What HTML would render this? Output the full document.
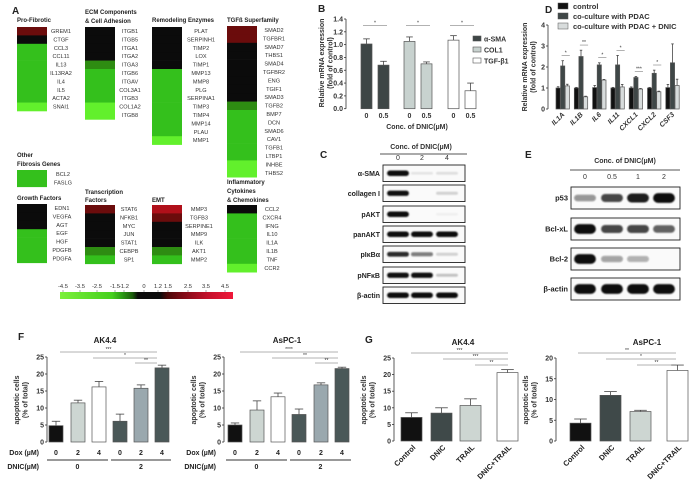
<!DOCTYPE html>
<html><head><meta charset="utf-8">
<style>
html,body{margin:0;padding:0;background:#fff;}
svg{display:block;font-family:"Liberation Sans",Arial,sans-serif;}
</style></head>
<body>
<svg id="fig" width="692" height="490" viewBox="0 0 692 490" xmlns="http://www.w3.org/2000/svg"></svg>
<script>
// ===== Panel A heatmap data =====
const hmTitles=[["Pro-Fibrotic"],["ECM Components","& Cell Adhesion"],["Remodeling Enzymes"],["TGFß Superfamily"],["Other","Fibrosis Genes"],["Growth Factors"],["Transcription","Factors"],["EMT"],["Inflammatory","Cytokines","& Chemokines"]];
const hmGenes=[
["GREM1","CTGF","CCL3","CCL11","IL13","IL13RA2","IL4","IL5","ACTA2","SNAI1"],
["ITGB1","ITGB5","ITGA1","ITGA2","ITGA3","ITGB6","ITGAV","COL3A1","ITGB3","COL1A2","ITGB8"],
["PLAT","SERPINH1","TIMP2","LOX","TIMP1","MMP13","MMP8","PLG","SERPINA1","TIMP3","TIMP4","MMP14","PLAU","MMP1"],
["SMAD2","TGFBR1","SMAD7","THBS1","SMAD4","TGFBR2","ENG","TGIF1","SMAD3","TGFB2","BMP7","DCN","SMAD6","CAV1","TGFB1","LTBP1","INHBE","THBS2"],
["BCL2","FASLG"],
["EDN1","VEGFA","AGT","EGF","HGF","PDGFB","PDGFA"],
["STAT6","NFKB1","MYC","JUN","STAT1","CEBPB","SP1"],
["MMP3","TGFB3","SERPINE1","MMP9","ILK","AKT1","MMP2"],
["CCL2","CXCR4","IFNG","IL10","IL1A","IL1B","TNF","CCR2"]];
const hmValues=[
[2,0,-2,-2,-2,-2,-2,-2,-2,-4],
[0,0,0,0,-1.3,-2,-2,-2,-2,-4,-4],
[0,0,0,0,0,-2,-2,-2,-2,-2,-2,-2,-2,-4],
[2,2,0,0,0,0,0,0,0,-1.3,-2,-2,-2,-2,-2,-2,-4,-4],
[-2,-2],
[0,0,0,-2,-2,-2,-2],
[2.2,0,0,0,0,-1.3,-2],
[3,2,0,0,0,-1.3,-2],
[0,-2,-2,-2,-2,-2,-2,-4]];
const cbTicks=["-4.5","-3.5","-2.5","-1.5","-1.2","0","1.2","1.5","2.5","3.5","4.5"];

// ===== Panel B =====
const bGroups=["0","0.5","0","0.5","0","0.5"];
const bValues=[1.01,0.68,1.05,0.70,1.07,0.28];
const bErrors=[0.08,0.06,0.07,0.03,0.07,0.12];
const bYTicks=["0.0","0.2","0.4","0.6","0.8","1.0","1.2","1.4"];
const bLegend=["α-SMA","COL1","TGF-β1"];

// ===== Panel D =====
const dGenes=["IL1A","IL1B","IL6","IL11","CXCL1","CXCL2","CSF3"];
const dControl=[1,1,1.02,1,1,1,1.02];
const dCoculture=[2.05,2.5,2.1,2.1,1.5,1.7,2.2];
const dDnic=[1.1,0.58,1.38,1.05,0.95,0.82,1.12];
const dControlErr=[0.06,0.03,0.1,0.03,0.05,0.03,0.15];
const dCocultureErr=[0.25,0.3,0.1,0.45,0.05,0.15,0.9];
const dDnicErr=[0.08,0.03,0.03,0.12,0.03,0.03,0.3];
const dSig=["*","**","*","*","***","*",""];
const dYTicks=["0","1","2","3","4"];
const dLegend=["control","co-culture with PDAC","co-culture with PDAC + DNIC"];

// ===== Panel C / E =====
const cRows=["α-SMA","collagen I","pAKT","panAKT","pIκBα","pNFκB","β-actin"];
const cLanes=["0","2","4"];
const cIntensity=[[1,0.08,0.1],[0.9,0,0.15],[1,0,0.04],[1,1,1],[0.8,0.5,0.15],[0.9,0.9,0.2],[1,1,1]];
const eRows=["p53","Bcl-xL","Bcl-2","β-actin"];
const eLanes=["0","0.5","1","2"];
const eIntensity=[[0.4,0.7,0.85,1],[1,0.7,0.7,0.6],[1,0.35,0.3,0],[1,1,1,1]];

// ===== Panel F =====
const fDox=["0","2","4","0","2","4"];
const fAKValues=[4.8,11.5,16.2,6.1,15.8,21.8];
const fAKErrors=[1.3,0.8,1.6,2.1,1.0,0.8];
const fAsValues=[5.0,9.4,13.3,8.1,16.8,21.6];
const fAsErrors=[0.6,2.7,1.1,1.6,0.6,0.4];
const fYTicks=["0","5","10","15","20","25"];

// ===== Panel G =====
const gCats=["Control","DNIC","TRAIL","DNIC+TRAIL"];
const gAKValues=[7.1,8.4,10.7,20.6];
const gAKErrors=[1.4,1.6,2.0,0.9];
const gAsValues=[4.3,11.0,7.1,17.0];
const gAsErrors=[1.0,0.9,0.3,1.3];
const gAKTicks=["0","5","10","15","20","25"];
const gAsTicks=["0","5","10","15","20"];

const NS="http://www.w3.org/2000/svg";
const svg=document.getElementById('fig');
function mk(tag,attrs,parent,txt){const e=document.createElementNS(NS,tag);for(const k in attrs)e.setAttribute(k,attrs[k]);if(txt!==undefined)e.textContent=txt;(parent||svg).appendChild(e);return e;}
function grp(name,parent){const g=mk('g',{},parent);


return g;}
function linY(v0,v1,p0,p1){return v=>p0+(v-v0)*(p1-p0)/(v1-v0);}

const defs=mk('defs',{});
const flt=mk('filter',{id:'blur',x:'-20%',y:'-50%',width:'140%',height:'200%'},defs);
mk('feGaussianBlur',{stdDeviation:0.9},flt);

// panel letters
[["A",12,14],["B",318,12],["C",320,158],["D",545,13],["E",525,158],["F",18,340],["G",365,343]].forEach(l=>{
const t=mk('text',{x:l[1],y:l[2],'font-size':10,'font-weight':'bold',fill:'#222'},svg,l[0]);


});

// ===== A =====
function hmColor(v){if(v>=2.8)return '#b0101a';if(v>=1.5)return '#6b0c0c';if(v>-1)return '#0b0b0b';if(v>-1.6)return '#2e8c12';if(v>-3)return '#34c01c';return '#62f02c';}
const hmBoxX=[17,85,152,227,17,17,85,152,227];
const hmBoxY=[27,27,27,26,170,204,205,205,205];
const hmLabX=[61,130,201,274,63,62,129,199,272];
const hmTitleY=[22,[14,23],22,22,[157,166],200,[194,202],202,[184,193,202]];
const RH=8.4;
const gA=grp('panel-a-heatmaps');
hmGenes.forEach((genes,i)=>{
const g=grp('heatmap-'+hmTitles[i][0].toLowerCase().replace(/[^a-z]+/g,'-'),gA);
const ty=Array.isArray(hmTitleY[i])?hmTitleY[i]:[hmTitleY[i]];
hmTitles[i].forEach((t,k)=>{const tt=mk('text',{x:hmBoxX[i],y:ty[k],'font-size':6,'font-weight':'bold',fill:'#222'},g,t);

});
genes.forEach((gn,r)=>{
const y=hmBoxY[i]+r*RH;
const c=mk('rect',{x:hmBoxX[i],y:y,width:30,height:RH+0.3,fill:hmColor(hmValues[i][r])},g);


const l=mk('text',{x:hmLabX[i],y:y+6,'font-size':5.6,'text-anchor':'middle',fill:'#333'},g,gn);


});
});
// colorbar
const lg=mk('linearGradient',{id:'cb',x1:0,x2:1,y1:0,y2:0},defs);
[[0,'#7cf03a'],[0.3,'#45d01e'],[0.36,'#2a9a14'],[0.42,'#1b5a0b'],[0.45,'#0b0b0b'],[0.58,'#0b0b0b'],[0.62,'#4a0808'],[0.7,'#7a0a14'],[0.85,'#c2102a'],[1,'#f0183a']].forEach(s=>mk('stop',{offset:s[0],'stop-color':s[1]},lg));
const gcb=grp('color-scale-bar',gA);
const cbr=mk('rect',{x:60,y:292,width:173,height:7,fill:'url(#cb)'},gcb);


const cbX=[63,80,97,115,124,144,158,168,188,206,225];
cbTicks.forEach((t,i)=>{const tt=mk('text',{x:cbX[i],y:288,'font-size':5.8,'text-anchor':'middle',fill:'#333'},gcb,t);


mk('line',{x1:cbX[i],x2:cbX[i],y1:290,y2:292,stroke:'#555','stroke-width':0.5},gcb);});

// generic axis
function yAxis(g,x,ticks,yScale,vals,fs){
mk('line',{x1:x,x2:x,y1:yScale(vals[vals.length-1]),y2:yScale(vals[0]),stroke:'#333','stroke-width':0.8},g);
ticks.forEach((t,i)=>{const y=yScale(vals[i]);mk('line',{x1:x-2,x2:x,y1:y,y2:y,stroke:'#333','stroke-width':0.8},g);
const tt=mk('text',{x:x-3,y:y+2.5,'font-size':fs,'font-weight':'bold','text-anchor':'end',fill:'#333'},g,t);

});
}
function yTitle(g,x,y,lines,fs){lines.forEach((l,i)=>{const t=mk('text',{x:0,y:0,'font-size':fs,'font-weight':'bold','text-anchor':'middle',fill:'#333',transform:`translate(${x+i*(fs+1.5)},${y}) rotate(-90)`},g,l);

});}
function bar(g,name,x,w,y0,y1,fill,errY){
if(errY!==undefined){mk('line',{x1:x+w/2,x2:x+w/2,y1:y1,y2:errY,stroke:'#444','stroke-width':0.8},g);mk('line',{x1:x+w/2-w*0.3,x2:x+w/2+w*0.3,y1:errY,y2:errY,stroke:'#444','stroke-width':0.8},g);}
const r=mk('rect',{x:x,y:Math.min(y0,y1),width:w,height:Math.abs(y0-y1),fill:fill,stroke:'#555','stroke-width':0.7},g);


return r;}
function sig(g,x1,x2,y,txt){mk('line',{x1:x1,x2:x2,y1:y,y2:y,stroke:'#666','stroke-width':0.5},g);
const t=mk('text',{x:(x1+x2)/2,y:y-1,'font-size':5,'text-anchor':'middle',fill:'#333'},g,txt);

}

// ===== B =====
const gB=grp('panel-b-chart');
const bY=linY(0,1.4,108.7,19);
yAxis(gB,346,bYTicks,bY,bYTicks.map(Number),7);
yTitle(gB,324,63,["Relative mRNA expression","(fold of control)"],7);
const bX=[361,378,404,421,448,465];
const bFill=['#3e4646','#3e4646','#c8d2cf','#c8d2cf','#ffffff','#ffffff'];
bValues.forEach((v,i)=>{bar(gB,'bar-b-'+i,bX[i],11,bY(0),bY(v),bFill[i],bY(v+bErrors[i]));
const t=mk('text',{x:bX[i]+5.5,y:118,'font-size':7,'font-weight':'bold','text-anchor':'middle',fill:'#333'},gB,bGroups[i]);

});
for(let k=0;k<3;k++)sig(gB,bX[2*k]+2,bX[2*k+1]+9,bY(1.3),'*');
const bt=mk('text',{x:417,y:129,'font-size':7,'font-weight':'bold','text-anchor':'middle',fill:'#333'},gB,'Conc. of DNIC(µM)');


const bLF=['#3e4646','#c8d2cf','#ffffff'];
bLegend.forEach((l,i)=>{const g=grp('legend-entry-b',gB);mk('rect',{x:473,y:36+i*11,width:8,height:5,fill:bLF[i],stroke:'#555','stroke-width':0.6},g);mk('text',{x:484,y:41.5+i*11,'font-size':7,'font-weight':'bold',fill:'#333'},g,l);});

// ===== D =====
const gD=grp('panel-d-chart');
const dY=linY(0,4,109,25);
yAxis(gD,548,dYTicks,dY,dYTicks.map(Number),7);
yTitle(gD,527,67,["Relative mRNA expression","(fold of control)"],7);
const dX0=556,dStep=18.3,dW=4.6;
const dSeries=[dControl,dCoculture,dDnic],dErr=[dControlErr,dCocultureErr,dDnicErr],dFill=['#111','#3f4747','#d8dcdc'];
dGenes.forEach((gn,i)=>{
const gx=dX0+i*dStep;
dSeries.forEach((s,k)=>bar(gD,'bar-d-'+gn.toLowerCase(),gx+k*dW,dW-0.4,dY(0),dY(s[i]),dFill[k],dY(s[i]+dErr[k][i])));
if(dSig[i])sig(gD,gx+dW+1,gx+2*dW+dW,dY(dCoculture[i]+dCocultureErr[i]+0.15)-2,dSig[i]);
const t=mk('text',{x:0,y:0,'font-size':7,'font-weight':'bold','font-style':'italic','text-anchor':'end',fill:'#333',transform:`translate(${gx+9},${115}) rotate(-45)`},gD,gn);


});
dLegend.forEach((l,i)=>{const g=grp('legend-entry-d',gD);mk('rect',{x:558,y:3+i*10,width:10,height:6,fill:dFill[i],stroke:'#555','stroke-width':0.5},g);mk('text',{x:573,y:9+i*10,'font-size':7.5,'font-weight':'bold',fill:'#333'},g,l);});

// ===== blots =====
function blot(name,x0,x1,rowsY,rowH,rows,lanes,laneX,inten,titleX,titleY,lineY,laneY,lx0,lx1,fs,bandFrac){
const g=grp(name);
const tt=mk('text',{x:titleX,y:titleY,'font-size':7,'font-weight':'bold','text-anchor':'middle',fill:'#333'},g,'Conc. of DNIC(µM)');


mk('line',{x1:lx0,x2:lx1,y1:lineY,y2:lineY,stroke:'#555','stroke-width':1},g);
lanes.forEach((l,i)=>{const t=mk('text',{x:laneX[i],y:laneY,'font-size':7,'text-anchor':'middle',fill:'#333'},g,l);

});
rows.forEach((r,j)=>{const y=rowsY[j];
const rg=grp('blot-row-'+r.toLowerCase().replace(/[^a-z0-9]+/g,'-'),g);
mk('rect',{x:x0,y:y,width:x1-x0,height:rowH,fill:'#fafafa',stroke:'#222','stroke-width':0.9},rg);
const lw=(x1-x0)/lanes.length;
lanes.forEach((l,i)=>{const a=inten[j][i];if(a>0.02){const h=rowH*bandFrac*(0.5+a*0.6);
mk('rect',{x:laneX[i]-lw*0.4,y:y+rowH/2-h/2,width:lw*0.8,height:h,rx:h/2,fill:'#111','fill-opacity':Math.min(1,a*1.1),filter:'url(#blur)'},rg);}});
const t=mk('text',{x:x0-3,y:y+rowH/2+2.7,'font-size':fs,'font-weight':'bold','text-anchor':'end',fill:'#222'},rg,r);


});}
blot('panel-c-western-blot',383,465,[165,185,206,226,246,267,287],16.5,cRows,cLanes,[398,422,447],cIntensity,421,149,154,160,380,467,7,0.3);
blot('panel-e-western-blot',571,680,[187,218,248,278],22,eRows,eLanes,[585,612,638,664],eIntensity,625,163,170,179,570,680,7.5,0.4);

// ===== F =====
function panelF(name,axisX,barX,vals,errs,title,titleX,sigs){
const g=grp(name);
const y=linY(0,25,442,357);
yAxis(g,axisX,fYTicks,y,fYTicks.map(Number),7);
const fFill=['#111','#cdd6d2','#ffffff','#4a5858','#9aa8ae','#4a5858'];
vals.forEach((v,i)=>{bar(g,'bar-f-'+i,barX[i],14,y(0),y(v),fFill[i],y(v+errs[i]));
const t=mk('text',{x:barX[i]+7,y:455,'font-size':7,'font-weight':'bold','text-anchor':'middle',fill:'#222'},g,fDox[i]);

});
mk('line',{x1:barX[0]-2,x2:barX[2]+16,y1:460,y2:460,stroke:'#333','stroke-width':1},g);
mk('line',{x1:barX[3]-2,x2:barX[5]+16,y1:460,y2:460,stroke:'#333','stroke-width':1},g);
[["0",(barX[0]+barX[2]+14)/2],["2",(barX[3]+barX[5]+14)/2]].forEach(d=>{const t=mk('text',{x:d[1],y:469,'font-size':7,'font-weight':'bold','text-anchor':'middle',fill:'#222'},g,d[0]);

});
const tt=mk('text',{x:titleX,y:343,'font-size':8,'font-weight':'bold','text-anchor':'middle',fill:'#222'},g,title);


sigs.forEach(s=>sig(g,s[0],s[1],s[2],s[3]));
yTitle(g,axisX-28,400,["apoptotic cells","(% of total)"],7);
const d1=mk('text',{x:axisX-8,y:455,'font-size':7,'font-weight':'bold','text-anchor':'end',fill:'#222'},g,'Dox (µM)');


const d2=mk('text',{x:axisX-8,y:469,'font-size':7,'font-weight':'bold','text-anchor':'end',fill:'#222'},g,'DNIC(µM)');


}
panelF('panel-f-ak44',47,[49,71,92,113,134,155],fAKValues,fAKErrors,'AK4.4',105,[[60,157,352,'***'],[93,157,358,'*'],[135,157,363,'**']]);
panelF('panel-f-aspc1',224,[228,250,271,292,314,335],fAsValues,fAsErrors,'AsPC-1',287,[[240,338,352,'****'],[272,338,358,'**'],[315,338,363,'**']]);

// ===== G =====
function panelG(name,axisX,barX,vals,errs,ticks,maxV,title,titleX,sigs){
const g=grp(name);
const y=linY(0,maxV,441,358);
yAxis(g,axisX,ticks,y,ticks.map(Number),7);
const gFill=['#111','#3f4949','#cdd6d2','#ffffff'];
vals.forEach((v,i)=>{bar(g,'bar-g-'+gCats[i].toLowerCase().replace('+','-'),barX[i],21,y(0),y(v),gFill[i],y(v+errs[i]));
const t=mk('text',{x:0,y:0,'font-size':7.5,'font-weight':'bold','text-anchor':'end',fill:'#222',transform:`translate(${barX[i]+15},${448}) rotate(-45)`},g,gCats[i]);

});
const tt=mk('text',{x:titleX,y:345,'font-size':8,'font-weight':'bold','text-anchor':'middle',fill:'#222'},g,title);


sigs.forEach(s=>sig(g,s[0],s[1],s[2],s[3]));
yTitle(g,axisX-28,400,["apoptotic cells","(% of total)"],7);
}
panelG('panel-g-ak44',394,[401,431,460,497],gAKValues,gAKErrors,gAKTicks,25,'AK4.4',463,[[411,508,353,'***'],[443,508,359,'***'],[475,508,365,'**']]);
panelG('panel-g-aspc1',556,[570,600,630,667],gAsValues,gAsErrors,gAsTicks,20,'AsPC-1',647,[[578,676,353,'**'],[606,676,359,'*'],[637,676,365,'**']]);
</script>
</body></html>
